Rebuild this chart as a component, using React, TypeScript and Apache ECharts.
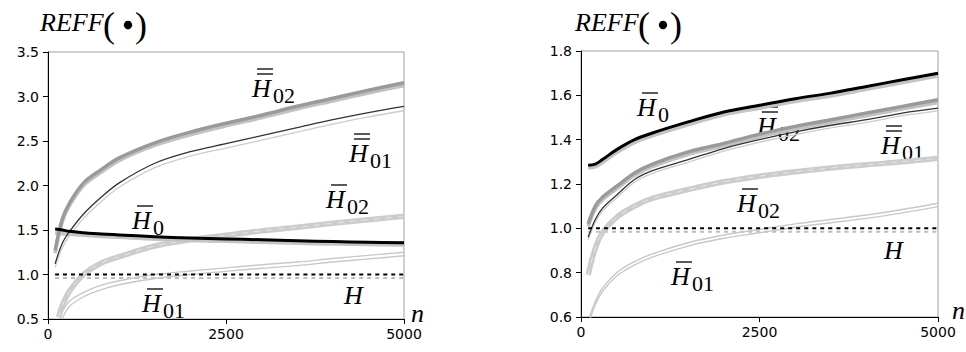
import React, { useEffect, useRef } from "react";
import * as echarts from "echarts";

// ---------- data ----------
const N = [100, 200, 300, 500, 750, 1000, 1500, 2000, 2500, 3000, 3500, 4000, 4500, 5000];

// Left panel
const L_N_H02b = [150, 200, 300, 500, 750, 1000, 1500, 2000, 2500, 3000, 3500, 4000, 4500, 5000];
const L_N_H01b_up = [160, 200, 300, 500, 750, 1000, 1500, 2000, 2500, 3000, 3500, 4000, 4500, 5000];
const L_N_H01b_lo = [200, 300, 500, 750, 1000, 1500, 2000, 2500, 3000, 3500, 4000, 4500, 5000];

const L_H02bb_dark = [1.27, 1.62, 1.8, 2.03, 2.18, 2.31, 2.48, 2.6, 2.7, 2.79, 2.89, 2.98, 3.07, 3.155];
const L_H02bb_light = [1.24, 1.59, 1.77, 2.0, 2.15, 2.28, 2.45, 2.57, 2.67, 2.76, 2.86, 2.95, 3.04, 3.12];
const L_H01bb_dark = [1.12, 1.35, 1.48, 1.68, 1.87, 2.03, 2.25, 2.38, 2.47, 2.56, 2.65, 2.74, 2.82, 2.89];
const L_H01bb_light = [1.08, 1.3, 1.43, 1.63, 1.82, 1.98, 2.2, 2.33, 2.42, 2.51, 2.6, 2.69, 2.77, 2.84];
const L_H0_black = [1.51, 1.5, 1.485, 1.47, 1.455, 1.445, 1.425, 1.41, 1.4, 1.39, 1.38, 1.37, 1.362, 1.356];
const L_H0_grey = [1.47, 1.46, 1.455, 1.445, 1.43, 1.42, 1.4, 1.385, 1.375, 1.365, 1.355, 1.345, 1.34, 1.335];
const L_H02b = [0.52, 0.65, 0.81, 1.0, 1.13, 1.2, 1.32, 1.39, 1.44, 1.49, 1.53, 1.575, 1.615, 1.655];
const L_H01b_up = [0.5, 0.58, 0.7, 0.8, 0.88, 0.93, 1.0, 1.04, 1.075, 1.11, 1.14, 1.18, 1.215, 1.25];
const L_H01b_lo = [0.5, 0.64, 0.75, 0.83, 0.885, 0.955, 1.0, 1.035, 1.07, 1.1, 1.14, 1.175, 1.21];
const L_H_black = 1.0;
const L_H_grey = 0.96;

// Right panel
const R_N_H01b = [120, 200, 300, 500, 750, 1000, 1500, 2000, 2500, 3000, 3500, 4000, 4500, 5000];
const R_H0_black = [1.285, 1.29, 1.31, 1.355, 1.4, 1.43, 1.48, 1.525, 1.555, 1.585, 1.61, 1.64, 1.67, 1.7];
const R_H0_grey = [1.273, 1.278, 1.298, 1.343, 1.388, 1.418, 1.468, 1.513, 1.543, 1.573, 1.598, 1.628, 1.658, 1.688];
const R_H02bb_dark = [1.02, 1.1, 1.14, 1.19, 1.25, 1.29, 1.345, 1.383, 1.425, 1.46, 1.49, 1.52, 1.55, 1.58];
const R_H02bb_light = [1.008, 1.088, 1.128, 1.178, 1.238, 1.278, 1.333, 1.371, 1.413, 1.448, 1.478, 1.508, 1.538, 1.568];
const R_H01bb_dark = [0.96, 1.04, 1.09, 1.15, 1.22, 1.26, 1.31, 1.36, 1.4, 1.435, 1.465, 1.49, 1.52, 1.542];
const R_H01bb_light = [0.948, 1.028, 1.078, 1.138, 1.208, 1.248, 1.298, 1.348, 1.388, 1.423, 1.453, 1.478, 1.508, 1.53];
const R_H02b = [0.79, 0.91, 0.98, 1.05, 1.1, 1.135, 1.175, 1.21, 1.235, 1.255, 1.272, 1.287, 1.3, 1.316];
const R_H01b_up = [0.6, 0.67, 0.73, 0.8, 0.85, 0.885, 0.935, 0.97, 0.995, 1.02, 1.04, 1.06, 1.085, 1.113];
const R_H01b_lo = [0.585, 0.655, 0.715, 0.785, 0.835, 0.87, 0.92, 0.955, 0.98, 1.005, 1.025, 1.045, 1.07, 1.098];
const R_H_black = 1.0;
const R_H_grey = 0.985;

const H_RANGE = [100, 5000];

const LEFT_Y = { min: 0.5, max: 3.5, interval: 0.5 };
const RIGHT_Y = { min: 0.6, max: 1.8, interval: 0.2 };
const X_TICKS = { min: 0, max: 5000, interval: 2500 };

// ---------- helpers ----------
const zip = (xs: number[], ys: number[]) => ys.map((y, i) => [xs[i], y]);

const SERIF = "Liberation Serif";

function line(
  idx: number,
  data: number[][],
  color: string,
  width: number,
  z: number,
  type: any = "solid"
) {
  return {
    type: "line",
    xAxisIndex: idx,
    yAxisIndex: idx,
    data,
    showSymbol: false,
    symbol: "none",
    smooth: 0.35,
    z,
    silent: true,
    lineStyle: { color, width, type, cap: "butt", join: "round" },
  };
}

function seriesFor(
  idx: number,
  d: {
    h02bbDark: number[][];
    h02bbLight: number[][];
    h01bbDark: number[][];
    h01bbLight: number[][];
    h0Black: number[][];
    h0Grey: number[][];
    h02b: number[][];
    h01bUp: number[][];
    h01bLo: number[][];
    hBlack: number;
    hGrey: number;
  }
) {
  return [
    line(idx, [[H_RANGE[0], d.hGrey], [H_RANGE[1], d.hGrey]], "#bdbdbd", 2, 1, [4, 4]),
    line(idx, d.h01bUp, "#c8c8c8", 1.4, 2),
    line(idx, d.h01bLo, "#c8c8c8", 1.4, 2),
    line(idx, d.h02b, "#cccccc", 5.5, 3),
    line(idx, d.h02b, "#e6e6e6", 1, 3, [6, 6]),
    line(idx, d.h0Grey, "#c4c4c4", 4, 4),
    line(idx, d.h02bbLight, "#c2c2c2", 3.5, 4),
    line(idx, d.h02bbDark, "#9a9a9a", 3.5, 5),
    line(idx, d.h01bbLight, "#cccccc", 1.3, 5),
    line(idx, d.h01bbDark, "#333333", 1.3, 6),
    line(idx, [[H_RANGE[0], d.hBlack], [H_RANGE[1], d.hBlack]], "#000000", 2, 7, [4, 4]),
    line(idx, d.h0Black, "#000000", 3, 8),
  ];
}

// label positions: hx = left of H, ct = cap top
type Lbl = { hx: number; ct: number; sub: string; bars: number };

function txt(x: number, y: number, text: string, size: number, italic: boolean) {
  return {
    type: "text",
    x,
    y,
    silent: true,
    style: {
      text,
      fontFamily: SERIF,
      fontSize: size,
      fontStyle: italic ? "italic" : "normal",
      fill: "#000",
      verticalAlign: "middle",
      align: "left",
    },
  };
}

function hLabel(l: Lbl): any[] {
  const els: any[] = [txt(l.hx - 1, l.ct + 8.8, "H", 26, true)];
  if (l.sub) els.push(txt(l.hx + 20, l.ct + 15.5, l.sub, 22, false));
  const barYs = l.bars === 2 ? [l.ct - 11, l.ct - 6] : l.bars === 1 ? [l.ct - 6] : [];
  barYs.forEach((by) =>
    els.push({
      type: "line",
      silent: true,
      shape: { x1: l.hx + 4, y1: by, x2: l.hx + 20, y2: by },
      style: { stroke: "#000", lineWidth: 1.3 },
    })
  );
  return els;
}

function title(x: number): any[] {
  return [
    txt(x, 22, "REFF", 26, true),
    txt(x + 63, 25, "(", 36, false),
    {
      type: "circle",
      silent: true,
      shape: { cx: x + 88, cy: 25, r: 4.2 },
      style: { fill: "#000" },
    },
    txt(x + 95, 25, ")", 36, false),
  ];
}

const LEFT_LABELS: Lbl[] = [
  { hx: 253, ct: 80, sub: "02", bars: 2 },
  { hx: 350, ct: 145, sub: "01", bars: 2 },
  { hx: 327, ct: 191, sub: "02", bars: 1 },
  { hx: 133, ct: 212, sub: "0", bars: 1 },
  { hx: 143, ct: 295, sub: "01", bars: 1 },
  { hx: 345, ct: 287, sub: "", bars: 0 },
];
const RIGHT_LABELS: Lbl[] = [
  { hx: 638, ct: 99, sub: "0", bars: 1 },
  { hx: 758, ct: 118, sub: "02", bars: 2 },
  { hx: 882, ct: 137, sub: "01", bars: 2 },
  { hx: 738, ct: 195, sub: "02", bars: 1 },
  { hx: 672, ct: 268, sub: "01", bars: 1 },
  { hx: 885, ct: 242, sub: "", bars: 0 },
];

const axisFont = { fontFamily: "DejaVu Sans", fontSize: 14, color: "#000" };

function xAxis(idx: number) {
  return {
    type: "value",
    gridIndex: idx,
    min: X_TICKS.min,
    max: X_TICKS.max,
    interval: X_TICKS.interval,
    axisLine: { show: true, lineStyle: { color: "#000", width: 1 } },
    axisTick: { show: true, length: 5, lineStyle: { color: "#000" } },
    splitLine: { show: false },
    axisLabel: { ...axisFont, margin: 8, formatter: (v: number) => String(v) },
  };
}

function yAxis(idx: number, r: { min: number; max: number; interval: number }) {
  return {
    type: "value",
    gridIndex: idx,
    min: r.min,
    max: r.max,
    interval: r.interval,
    axisLine: { show: true, lineStyle: { color: "#000", width: 1 } },
    axisTick: { show: true, length: 5, lineStyle: { color: "#000" } },
    splitLine: { show: false },
    axisLabel: { ...axisFont, margin: 9, formatter: (v: number) => v.toFixed(1) },
  };
}

export default function App() {
  const ref = useRef<HTMLDivElement>(null);
  useEffect(() => {
    if (!ref.current) return;
    const chart = echarts.init(ref.current, undefined, { renderer: "svg" });
    const left = seriesFor(0, {
      h02bbDark: zip(N, L_H02bb_dark),
      h02bbLight: zip(N, L_H02bb_light),
      h01bbDark: zip(N, L_H01bb_dark),
      h01bbLight: zip(N, L_H01bb_light),
      h0Black: zip(N, L_H0_black),
      h0Grey: zip(N, L_H0_grey),
      h02b: zip(L_N_H02b, L_H02b),
      h01bUp: zip(L_N_H01b_up, L_H01b_up),
      h01bLo: zip(L_N_H01b_lo, L_H01b_lo),
      hBlack: L_H_black,
      hGrey: L_H_grey,
    });
    const right = seriesFor(1, {
      h02bbDark: zip(N, R_H02bb_dark),
      h02bbLight: zip(N, R_H02bb_light),
      h01bbDark: zip(N, R_H01bb_dark),
      h01bbLight: zip(N, R_H01bb_light),
      h0Black: zip(N, R_H0_black),
      h0Grey: zip(N, R_H0_grey),
      h02b: zip(N, R_H02b),
      h01bUp: zip(R_N_H01b, R_H01b_up),
      h01bLo: zip(R_N_H01b, R_H01b_lo),
      hBlack: R_H_black,
      hGrey: R_H_grey,
    });
    chart.setOption({
      animation: false,
      backgroundColor: "#fff",
      grid: [
        { left: 48, top: 52, width: 356, height: 267, show: true, borderColor: "#a0a0a0", borderWidth: 1, backgroundColor: "transparent" },
        { left: 581, top: 51, width: 357, height: 266, show: true, borderColor: "#a0a0a0", borderWidth: 1, backgroundColor: "transparent" },
      ],
      xAxis: [xAxis(0), xAxis(1)],
      yAxis: [yAxis(0, LEFT_Y), yAxis(1, RIGHT_Y)],
      series: [...left, ...right],
      graphic: [
        ...title(40),
        ...title(575),
        txt(411, 313, "n", 26, true),
        txt(952, 310, "n", 26, true),
        ...LEFT_LABELS.flatMap(hLabel),
        ...RIGHT_LABELS.flatMap(hLabel),
      ],
    });
    return () => chart.dispose();
  }, []);
  return <div ref={ref} style={{ position: "fixed", left: 0, top: 0, width: 966, height: 352 }} />;
}
